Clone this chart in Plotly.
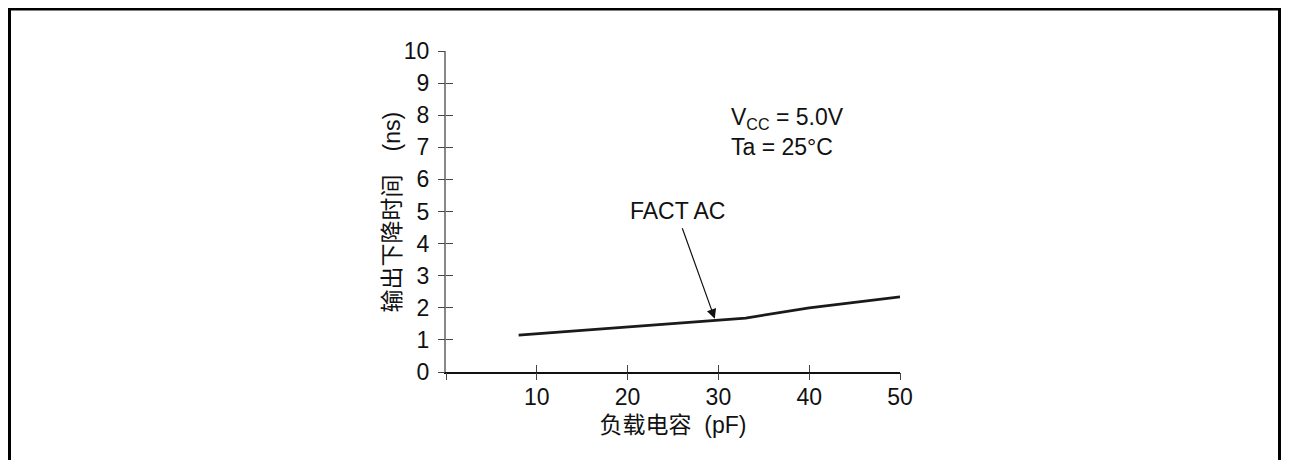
import plotly.graph_objects as go

load_pf = [8, 20, 30, 33, 40, 50]
fall_ns = [1.15, 1.40, 1.63, 1.68, 2.0, 2.34]
x_ticks = [0, 10, 20, 30, 40, 50]
x_ticktext = ["", "10", "20", "30", "40", "50"]
y_ticks = list(range(0, 11))

OFF = 8  # default page body margin
W, H = 1273, 452
L, T = 446 - OFF, 51 - OFF
R = W - (900 - OFF)
B = H - (372 - OFF)
pw, ph = W - L - R, H - T - B

def px(x):
    return (x - OFF - L) / pw

def py(y):
    return (H - B - (y - OFF)) / ph

font = "Liberation Sans, Arial, sans-serif"
cjk = "Liberation Sans, Noto Sans CJK SC, sans-serif"
tick_col = "#444"

fig = go.Figure()
fig.add_trace(go.Scatter(x=load_pf, y=fall_ns, mode="lines",
                         line=dict(color="#1a1a1a", width=2.7),
                         showlegend=False, hoverinfo="skip"))
fig.add_trace(go.Scatter(x=[None], y=[None], xaxis="x2", yaxis="y2",
                         showlegend=False, hoverinfo="skip"))

fig.update_layout(
    width=W, height=H,
    margin=dict(l=L, r=R, t=T, b=B),
    paper_bgcolor="white", plot_bgcolor="white",
    font=dict(family=font, size=23, color="#111"),
    xaxis=dict(range=[0, 50], tickvals=x_ticks, ticktext=x_ticktext,
               showgrid=False, zeroline=False, showline=True,
               linecolor="#111", linewidth=1.5,
               ticks="inside", ticklen=7, tickwidth=1.2, tickcolor=tick_col,
               ticklabelstandoff=4,
               tickfont=dict(size=23, family=font, color="#111"),
               title=dict(text="负载电容  (pF)", standoff=8,
                          font=dict(size=23, family=cjk, color="#111"))),
    yaxis=dict(range=[0, 10], tickvals=y_ticks,
               showgrid=False, zeroline=False, showline=True,
               linecolor="#888", linewidth=2,
               ticks="inside", ticklen=7, tickwidth=1.2, tickcolor=tick_col,
               ticklabelstandoff=10,
               tickfont=dict(size=23, family=font, color="#111")),
    xaxis2=dict(range=[0, 50], overlaying="x", anchor="y", side="bottom",
                tickvals=x_ticks, showticklabels=False, showgrid=False,
                zeroline=False, showline=False,
                ticks="outside", ticklen=7, tickwidth=1.2, tickcolor=tick_col),
    yaxis2=dict(range=[0, 10], overlaying="y", anchor="x", side="left",
                tickvals=y_ticks, showticklabels=False, showgrid=False,
                zeroline=False, showline=False,
                ticks="outside", ticklen=7, tickwidth=1.2, tickcolor=tick_col),
    shapes=[
        dict(type="line", xref="paper", yref="paper", x0=px(9.5), x1=px(9.5),
             y0=py(9), y1=py(480), line=dict(color="black", width=3)),
        dict(type="line", xref="paper", yref="paper", x0=px(1279.5), x1=px(1279.5),
             y0=py(9), y1=py(480), line=dict(color="black", width=3)),
        dict(type="line", xref="paper", yref="paper", x0=px(8), x1=px(1281),
             y0=py(9), y1=py(9), line=dict(color="black", width=3)),
    ],
    annotations=[
        dict(x=29.6, y=1.66, xref="x", yref="y", ax=-33, ay=-92,
             axref="pixel", ayref="pixel",
             text="", showarrow=True, arrowhead=2, arrowsize=1.6,
             arrowwidth=1.2, arrowcolor="#111", standoff=0),
        dict(x=px(677), y=py(211), xref="paper", yref="paper",
             text="FACT AC", showarrow=False,
             font=dict(size=23, family=font, color="#111"),
             xanchor="center", yanchor="middle"),
        dict(x=px(729), y=py(118), xref="paper", yref="paper",
             text="V<sub>CC</sub> = 5.0V", showarrow=False,
             font=dict(size=23, family=font, color="#111"),
             xanchor="left", yanchor="middle"),
        dict(x=px(729), y=py(147), xref="paper", yref="paper",
             text="Ta = 25°C", showarrow=False,
             font=dict(size=23, family=font, color="#111"),
             xanchor="left", yanchor="middle"),
        dict(x=px(391), y=py(212.5), xref="paper", yref="paper",
             text="输出下降时间\u3000(ns)", showarrow=False, textangle=-90,
             font=dict(size=23, family=cjk, color="#111"),
             xanchor="center", yanchor="middle"),
    ],
)

fig.write_html("out.html")
